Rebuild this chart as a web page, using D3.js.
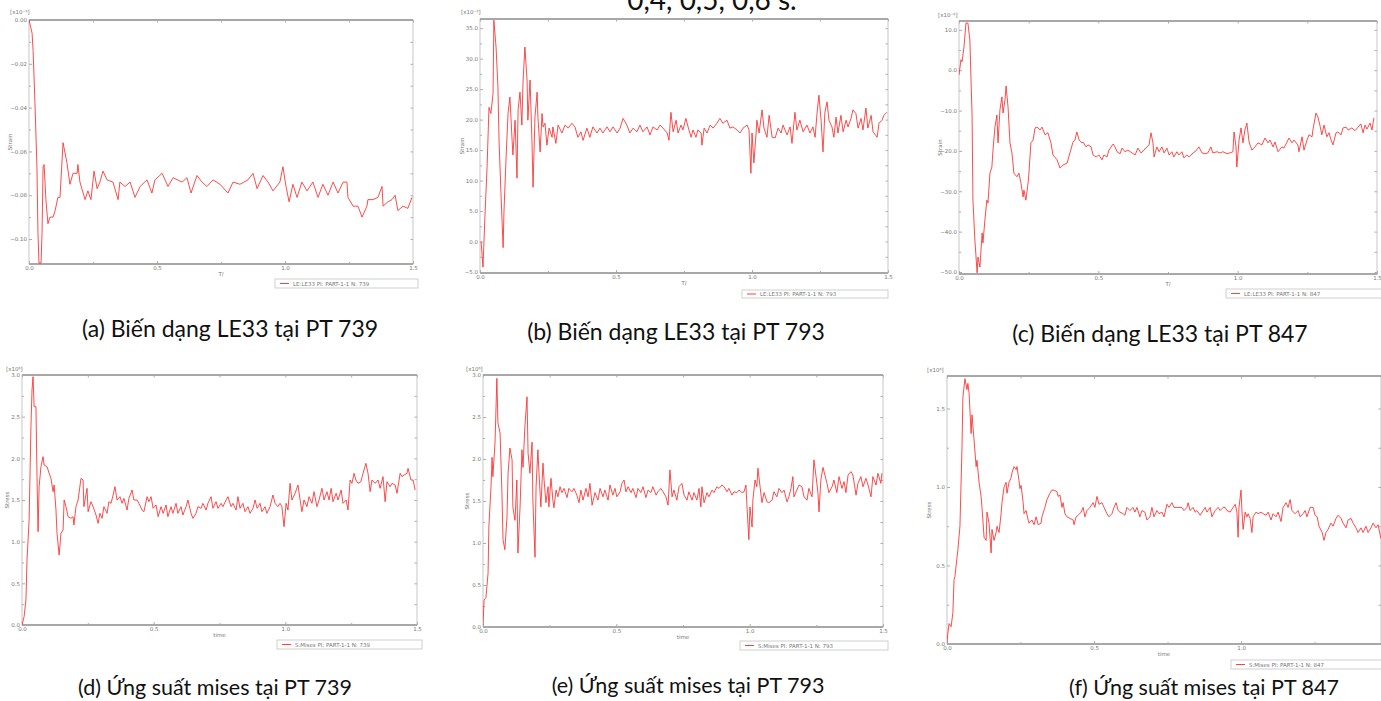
<!DOCTYPE html>
<html>
<head>
<meta charset="utf-8">
<script src="https://cdn.jsdelivr.net/npm/d3@7"></script>
<style>
body{margin:0;background:#fff;}
svg{display:block;}
.tick text{font-family:"DejaVu Sans",sans-serif;font-size:5.5px;fill:#777;}
.tick line{stroke:#888;stroke-width:0.7;}
.small-lbl{font-family:"DejaVu Sans",sans-serif;font-size:5.5px;fill:#777;}
.caption{font-family:Lato,"Open Sans",sans-serif;font-size:20px;fill:#111;}
</style>
</head>
<body>
<svg id="chart" width="1381" height="701"></svg>
<script>
// ---- data ----
var captions = ['(a) Biến dạng LE33 tại PT 739', '(b) Biến dạng LE33 tại PT 793', '(c) Biến dạng LE33 tại PT 847',
	'(d) Ứng suất mises tại PT 739', '(e) Ứng suất mises tại PT 793', '(f) Ứng suất mises tại PT 847'];
var legendLabels = ['LE:LE33 PI: PART-1-1 N: 739', 'LE:LE33 PI: PART-1-1 N: 793', 'LE:LE33 PI: PART-1-1 N: 847',
	'S:Mises PI: PART-1-1 N: 739', 'S:Mises PI: PART-1-1 N: 793', 'S:Mises PI: PART-1-1 N: 847'];
var topNote = '0,4, 0,5, 0,6 s.';
var xTicks = [0, 0.5, 1.0, 1.5];

var tA = [0,0.012,0.016,0.023,0.031,0.035,0.039,0.047,0.051,0.055,0.059,0.066,0.074,0.082,0.094,0.102,0.113,0.121,0.133,0.148,0.160,0.172,0.188,0.191,0.199,0.219,0.230,0.242,0.254,0.266,0.277,0.289,0.305,0.328,0.348,0.355,0.375,0.395,0.414,0.434,0.461,0.480,0.492,0.520,0.543,0.563,0.598,0.617,0.633,0.656,0.676,0.695,0.719,0.746,0.777,0.797,0.824,0.855,0.875,0.891,0.914,0.934,0.953,0.980,0.992,1.004,1.016,1.031,1.047,1.066,1.086,1.109,1.129,1.148,1.168,1.188,1.207,1.227,1.242,1.246,1.266,1.285,1.301,1.320,1.324,1.344,1.363,1.379,1.383,1.402,1.418,1.430,1.441,1.461,1.480,1.496];
var strainA = [0,-0.006,-0.014,-0.037,-0.067,-0.097,-0.111,-0.111,-0.097,-0.067,-0.066,-0.082,-0.093,-0.090,-0.090,-0.087,-0.081,-0.081,-0.056,-0.065,-0.075,-0.070,-0.070,-0.066,-0.074,-0.082,-0.078,-0.082,-0.069,-0.077,-0.074,-0.069,-0.073,-0.074,-0.082,-0.074,-0.076,-0.074,-0.081,-0.076,-0.073,-0.079,-0.073,-0.070,-0.076,-0.072,-0.074,-0.072,-0.079,-0.071,-0.074,-0.076,-0.073,-0.075,-0.079,-0.074,-0.075,-0.073,-0.070,-0.077,-0.071,-0.074,-0.078,-0.074,-0.067,-0.076,-0.083,-0.075,-0.081,-0.074,-0.078,-0.074,-0.081,-0.075,-0.080,-0.074,-0.079,-0.074,-0.074,-0.081,-0.085,-0.085,-0.090,-0.085,-0.082,-0.082,-0.081,-0.076,-0.085,-0.083,-0.082,-0.080,-0.087,-0.085,-0.086,-0.081];

var tB = [0.004,0.011,0.018,0.026,0.033,0.040,0.048,0.051,0.059,0.066,0.070,0.077,0.085,0.088,0.096,0.103,0.110,0.118,0.121,0.129,0.136,0.140,0.147,0.154,0.158,0.165,0.173,0.176,0.184,0.191,0.195,0.202,0.210,0.213,0.221,0.228,0.232,0.239,0.246,0.254,0.265,0.268,0.279,0.287,0.301,0.313,0.324,0.338,0.349,0.360,0.371,0.379,0.393,0.404,0.415,0.430,0.441,0.452,0.467,0.478,0.489,0.504,0.515,0.526,0.540,0.551,0.563,0.577,0.588,0.599,0.614,0.625,0.636,0.651,0.662,0.673,0.688,0.695,0.702,0.710,0.721,0.728,0.739,0.746,0.757,0.765,0.776,0.783,0.794,0.801,0.813,0.816,0.824,0.835,0.846,0.857,0.871,0.882,0.893,0.908,0.919,0.930,0.945,0.956,0.967,0.982,0.989,0.996,1.000,1.007,1.015,1.018,1.026,1.037,1.044,1.055,1.063,1.074,1.085,1.096,1.107,1.114,1.129,1.140,1.147,1.158,1.165,1.176,1.188,1.202,1.213,1.224,1.232,1.239,1.246,1.254,1.261,1.268,1.276,1.283,1.294,1.301,1.309,1.316,1.327,1.335,1.346,1.353,1.364,1.371,1.382,1.390,1.401,1.408,1.419,1.426,1.438,1.445,1.460,1.467,1.478,1.485,1.496];
var strainB = [0,-4.2,4.0,12.2,22,21,24.3,36.3,31.9,25.3,16.6,8,-1,4.7,13.9,21,23.7,16.6,14.2,19.9,10.4,21.6,24.5,19.1,26,31.9,26.5,19.9,26.5,16.6,8.9,20.4,24.5,20.4,14.7,21,18.8,19.4,15.8,18.6,17.1,18.8,16.1,19.1,17.8,19.1,18.6,19.4,18.8,17.1,18,16.6,18.6,17.1,18.8,17.8,18.6,17.8,18.8,18,18.8,17.8,18.6,20.2,19.1,17.8,18.6,18,19.1,18,18.8,17.5,18.8,18.3,19.1,18.6,17.8,16.6,21.2,18,19.9,17.8,19.1,18.3,20.2,18.8,17.1,18.3,17.1,18.3,17.8,15.8,18.6,17.8,19.1,18.6,19.4,20.2,19.4,19.9,18.6,18.8,18.3,17.8,18.6,19.1,18.3,11.2,17.8,12.9,17.8,19.9,17.8,21.6,18.6,17.1,20.7,17.1,17,18.6,17.8,19.1,17.5,18.8,16.1,21.2,18.3,19.9,18,19.1,17.8,18.8,17.1,21,24,19.9,14.7,21.2,22.9,19.9,18.8,17.1,20.4,17.8,20.7,18,19.9,18.8,20.2,21.6,21,18.6,20.2,18.3,21.9,18.6,20.7,18,17.1,19.4,19.9,20.7,21.2];

var tC = [0,0.007,0.011,0.018,0.025,0.032,0.039,0.047,0.050,0.057,0.065,0.068,0.075,0.083,0.086,0.093,0.100,0.104,0.111,0.118,0.122,0.129,0.136,0.140,0.147,0.154,0.158,0.165,0.169,0.176,0.183,0.190,0.197,0.208,0.215,0.222,0.230,0.233,0.240,0.248,0.251,0.258,0.266,0.273,0.280,0.291,0.298,0.309,0.319,0.330,0.337,0.352,0.362,0.373,0.388,0.398,0.409,0.416,0.423,0.431,0.441,0.445,0.456,0.463,0.474,0.481,0.492,0.502,0.513,0.520,0.531,0.538,0.553,0.560,0.567,0.578,0.585,0.596,0.606,0.621,0.632,0.642,0.653,0.664,0.675,0.682,0.689,0.696,0.700,0.710,0.718,0.728,0.736,0.746,0.754,0.764,0.771,0.782,0.789,0.800,0.807,0.818,0.825,0.840,0.850,0.861,0.872,0.883,0.893,0.904,0.911,0.926,0.936,0.947,0.962,0.972,0.983,0.987,0.994,0.997,1.005,1.012,1.019,1.026,1.033,1.041,1.051,1.062,1.073,1.087,1.098,1.109,1.116,1.127,1.134,1.145,1.159,1.166,1.177,1.184,1.195,1.202,1.216,1.220,1.231,1.238,1.249,1.256,1.267,1.270,1.281,1.288,1.295,1.302,1.310,1.320,1.328,1.335,1.342,1.353,1.360,1.371,1.378,1.389,1.396,1.410,1.421,1.432,1.442,1.450,1.457,1.464,1.475,1.482,1.489];
var strainC = [-1.2,2.6,2.1,5.8,11.7,11.7,7.5,-11.6,-32.2,-42.1,-50.2,-46.3,-48.8,-40.3,-42.8,-37.1,-32.2,-32.9,-25.5,-24,-19.8,-14.1,-11.1,-18,-9.8,-6.6,-10.6,-7.4,-3.9,-9.1,-18,-20.5,-25.5,-26.4,-25.5,-27.9,-31.4,-29.7,-32.2,-27.9,-25.5,-18,-17.3,-14.3,-14.1,-14.8,-14.1,-16,-15.5,-18,-21,-22.2,-24.2,-23.5,-23,-20.5,-17.8,-17.3,-15.3,-17.3,-18,-17.8,-19,-18.5,-19,-21,-21.5,-21,-22.2,-21,-21.5,-19.8,-18.3,-19,-20.2,-20.7,-19.3,-20.2,-19.8,-20.5,-21,-19.3,-20.5,-19.8,-19,-18.5,-15.5,-18,-21.5,-19,-20.2,-19,-20.5,-19.3,-21,-20.2,-21.5,-20.2,-21,-20.2,-21.7,-21,-21.5,-20.5,-20,-19,-20.5,-20.7,-20.5,-19,-20.5,-20.2,-20.5,-20.2,-20.7,-20.5,-20.2,-15.3,-19,-24,-17.3,-14.3,-18,-14.8,-13.1,-17.8,-19.8,-19,-18,-18.5,-16.8,-18,-17.3,-19,-17.8,-20.2,-19,-19.3,-17.8,-16.8,-18,-17.3,-18.5,-20.2,-16.5,-19.8,-17.3,-16,-16.5,-14.8,-10.6,-11.6,-13.6,-16,-13.6,-16.5,-15.5,-17.3,-18.5,-15.5,-15.3,-16,-14.3,-14.1,-14.8,-14.3,-15,-14.1,-13.3,-15.5,-13.6,-14.6,-13.1,-14.8,-11.8];

var tD = [0,0.008,0.015,0.019,0.027,0.034,0.038,0.042,0.046,0.053,0.057,0.061,0.065,0.072,0.080,0.084,0.095,0.103,0.110,0.118,0.122,0.129,0.133,0.141,0.148,0.156,0.160,0.167,0.175,0.186,0.194,0.197,0.205,0.213,0.224,0.232,0.235,0.247,0.251,0.262,0.270,0.281,0.289,0.296,0.304,0.311,0.323,0.330,0.338,0.346,0.353,0.361,0.372,0.380,0.387,0.399,0.406,0.418,0.425,0.437,0.444,0.456,0.463,0.475,0.482,0.490,0.498,0.509,0.517,0.528,0.536,0.547,0.554,0.566,0.573,0.585,0.592,0.604,0.611,0.623,0.630,0.642,0.649,0.661,0.668,0.680,0.687,0.699,0.706,0.718,0.725,0.737,0.744,0.756,0.763,0.775,0.782,0.794,0.801,0.813,0.820,0.828,0.839,0.847,0.858,0.866,0.877,0.885,0.893,0.904,0.911,0.923,0.930,0.942,0.953,0.961,0.972,0.980,0.987,0.995,1.003,1.010,1.018,1.025,1.037,1.048,1.056,1.063,1.071,1.082,1.090,1.101,1.109,1.120,1.128,1.139,1.147,1.158,1.166,1.174,1.181,1.193,1.200,1.212,1.219,1.231,1.238,1.246,1.253,1.261,1.268,1.276,1.287,1.295,1.306,1.314,1.322,1.329,1.341,1.352,1.360,1.371,1.379,1.386,1.398,1.405,1.417,1.424,1.436,1.443,1.451,1.462,1.466,1.477,1.485,1.493];
var stressD = [0,0.10,0.30,0.78,1.26,2.38,2.82,2.98,2.62,2.62,1.78,1.12,1.66,1.90,2.02,1.92,1.90,1.82,1.76,1.60,1.68,1.38,1.10,0.84,1.10,1.14,1.50,1.42,1.30,1.28,1.30,1.20,1.42,1.50,1.76,1.74,1.42,1.64,1.36,1.48,1.42,1.32,1.22,1.34,1.28,1.42,1.34,1.48,1.46,1.56,1.66,1.50,1.54,1.46,1.52,1.38,1.52,1.62,1.50,1.50,1.46,1.38,1.36,1.54,1.48,1.54,1.40,1.44,1.30,1.42,1.34,1.44,1.30,1.42,1.34,1.46,1.34,1.42,1.32,1.42,1.50,1.34,1.28,1.34,1.42,1.40,1.46,1.38,1.46,1.54,1.40,1.48,1.40,1.46,1.42,1.50,1.54,1.42,1.46,1.38,1.54,1.40,1.46,1.36,1.42,1.34,1.40,1.50,1.40,1.46,1.36,1.42,1.34,1.42,1.56,1.46,1.42,1.46,1.42,1.18,1.46,1.38,1.70,1.50,1.58,1.68,1.50,1.36,1.50,1.42,1.54,1.46,1.60,1.42,1.50,1.64,1.50,1.60,1.50,1.64,1.48,1.58,1.50,1.62,1.46,1.50,1.38,1.74,1.70,1.82,1.74,1.70,1.72,1.82,1.94,1.82,1.60,1.74,1.70,1.74,1.64,1.78,1.48,1.72,1.66,1.70,1.68,1.58,1.82,1.78,1.80,1.82,1.88,1.74,1.74,1.62];

var tE = [0,0.004,0.011,0.019,0.022,0.030,0.034,0.037,0.045,0.052,0.056,0.064,0.071,0.075,0.082,0.090,0.094,0.101,0.109,0.112,0.120,0.127,0.131,0.139,0.146,0.150,0.157,0.165,0.169,0.176,0.184,0.187,0.195,0.199,0.206,0.210,0.217,0.225,0.229,0.236,0.244,0.247,0.255,0.262,0.266,0.274,0.281,0.289,0.296,0.304,0.315,0.322,0.334,0.341,0.352,0.360,0.367,0.375,0.386,0.394,0.401,0.409,0.420,0.431,0.439,0.450,0.457,0.469,0.476,0.487,0.495,0.502,0.514,0.521,0.529,0.536,0.544,0.555,0.562,0.574,0.581,0.592,0.600,0.611,0.619,0.630,0.637,0.649,0.656,0.667,0.675,0.686,0.694,0.701,0.709,0.716,0.727,0.735,0.746,0.754,0.765,0.772,0.784,0.791,0.802,0.810,0.817,0.821,0.829,0.840,0.847,0.859,0.866,0.877,0.885,0.896,0.904,0.915,0.922,0.934,0.941,0.952,0.960,0.971,0.979,0.986,0.990,0.997,1.001,1.009,1.012,1.020,1.027,1.031,1.039,1.046,1.054,1.065,1.072,1.084,1.091,1.102,1.110,1.121,1.129,1.140,1.147,1.155,1.162,1.166,1.177,1.185,1.196,1.204,1.215,1.222,1.234,1.241,1.249,1.256,1.260,1.267,1.275,1.282,1.290,1.297,1.309,1.316,1.327,1.335,1.346,1.354,1.361,1.369,1.380,1.387,1.399,1.406,1.417,1.425,1.436,1.444,1.455,1.462,1.474,1.481,1.492,1.496];
var stressE = [0.02,0.32,0.35,0.64,1.19,1.67,2.02,1.79,2.19,2.96,2.43,2.31,1.60,1.04,0.92,1.31,1.83,2.13,1.99,1.43,1.27,1.75,0.88,1.43,2.11,1.90,2.38,2.74,2.07,1.83,2.20,1.51,0.83,1.67,2.11,1.83,1.43,1.95,1.75,1.48,1.67,1.43,1.77,1.51,1.42,1.63,1.55,1.67,1.60,1.65,1.54,1.65,1.61,1.65,1.57,1.48,1.63,1.51,1.65,1.55,1.71,1.45,1.60,1.51,1.65,1.55,1.63,1.51,1.69,1.57,1.65,1.55,1.61,1.71,1.75,1.61,1.67,1.60,1.65,1.54,1.65,1.60,1.67,1.54,1.63,1.60,1.67,1.57,1.61,1.65,1.61,1.55,1.45,1.87,1.55,1.63,1.51,1.67,1.71,1.57,1.51,1.61,1.51,1.60,1.51,1.65,1.43,1.67,1.48,1.60,1.55,1.63,1.60,1.67,1.65,1.69,1.67,1.61,1.65,1.57,1.61,1.60,1.63,1.60,1.61,1.69,1.43,1.04,1.43,1.19,1.51,1.75,1.67,1.89,1.67,1.48,1.60,1.49,1.48,1.51,1.61,1.55,1.65,1.60,1.63,1.49,1.55,1.65,1.79,1.55,1.63,1.69,1.67,1.55,1.51,1.65,1.55,1.99,1.79,1.60,1.37,1.75,1.90,1.81,1.71,1.60,1.67,1.75,1.60,1.79,1.65,1.73,1.60,1.81,1.85,1.81,1.57,1.71,1.79,1.67,1.77,1.69,1.55,1.79,1.69,1.83,1.71,1.83];

var tF = [0,0.003,0.007,0.014,0.020,0.024,0.027,0.034,0.037,0.044,0.051,0.054,0.061,0.068,0.071,0.075,0.082,0.085,0.092,0.099,0.102,0.109,0.116,0.119,0.126,0.133,0.136,0.143,0.150,0.153,0.160,0.167,0.170,0.177,0.184,0.187,0.194,0.201,0.204,0.211,0.218,0.221,0.228,0.235,0.238,0.245,0.248,0.252,0.259,0.262,0.269,0.276,0.279,0.289,0.296,0.303,0.310,0.320,0.323,0.333,0.340,0.350,0.357,0.364,0.374,0.378,0.384,0.391,0.395,0.401,0.408,0.418,0.429,0.432,0.439,0.446,0.456,0.463,0.469,0.476,0.486,0.497,0.503,0.510,0.517,0.527,0.534,0.544,0.551,0.561,0.568,0.575,0.582,0.588,0.599,0.605,0.612,0.622,0.633,0.639,0.646,0.656,0.663,0.673,0.680,0.690,0.697,0.704,0.714,0.721,0.731,0.738,0.748,0.755,0.765,0.772,0.782,0.789,0.799,0.806,0.816,0.820,0.827,0.837,0.844,0.850,0.861,0.871,0.878,0.884,0.895,0.901,0.912,0.922,0.929,0.939,0.946,0.952,0.963,0.973,0.980,0.986,0.990,0.993,1.000,1.003,1.007,1.014,1.020,1.024,1.031,1.037,1.041,1.051,1.058,1.068,1.075,1.085,1.092,1.102,1.109,1.119,1.126,1.136,1.143,1.153,1.160,1.167,1.173,1.184,1.194,1.201,1.211,1.218,1.224,1.235,1.245,1.252,1.259,1.265,1.276,1.282,1.289,1.296,1.306,1.313,1.323,1.330,1.340,1.347,1.357,1.364,1.374,1.381,1.391,1.398,1.408,1.415,1.425,1.432,1.442,1.449,1.459,1.466,1.476];
var stressF = [0.01,0.07,0.13,0.11,0.20,0.41,0.43,0.55,0.60,0.75,1.25,1.57,1.69,1.62,1.66,1.60,1.34,1.46,1.30,1.13,1.17,1.03,0.94,0.87,0.68,0.66,0.84,0.77,0.58,0.73,0.66,0.71,0.75,0.71,0.83,0.90,1.00,1.03,0.96,1.03,1.06,1.09,1.13,1.11,1.13,1.04,0.99,1.01,0.90,0.83,0.85,0.79,0.77,0.79,0.76,0.81,0.76,0.77,0.81,0.87,0.92,0.96,0.98,0.98,0.97,0.94,0.95,0.87,0.90,0.83,0.81,0.80,0.79,0.76,0.81,0.82,0.84,0.87,0.81,0.85,0.87,0.90,0.87,0.94,0.89,0.90,0.87,0.83,0.81,0.83,0.87,0.90,0.85,0.84,0.83,0.82,0.87,0.85,0.87,0.84,0.87,0.81,0.85,0.84,0.79,0.81,0.87,0.81,0.85,0.83,0.84,0.81,0.89,0.87,0.90,0.87,0.87,0.87,0.87,0.85,0.87,0.90,0.85,0.87,0.84,0.85,0.82,0.85,0.87,0.84,0.87,0.81,0.85,0.87,0.85,0.87,0.87,0.85,0.84,0.87,0.89,0.84,0.68,0.87,0.98,0.85,0.73,0.84,0.81,0.83,0.80,0.71,0.81,0.84,0.83,0.84,0.83,0.82,0.84,0.79,0.83,0.81,0.84,0.78,0.87,0.90,0.87,0.92,0.85,0.83,0.85,0.81,0.83,0.85,0.81,0.87,0.87,0.82,0.81,0.75,0.71,0.66,0.71,0.73,0.77,0.75,0.80,0.82,0.80,0.77,0.74,0.79,0.80,0.77,0.74,0.71,0.74,0.71,0.75,0.71,0.74,0.77,0.74,0.76,0.67];

// ---- layout of the six panels ----
var panels = [
	{t:tA, v:strainA, left:29, top:20, right:413, bottom:264, yDomain:[-0.1114, 0], yTicks:[0,-0.02,-0.04,-0.06,-0.08,-0.10], yFmt:'.2f', xMax:1.5,
		yLabel:'Strain', yLabelX:12, xLabel:'T/', exp:'[x10\u207B\u00B3]', expX:10, expY:14, leg:[275,279,143,9], capX:230, capY:337, capSize:23},
	{t:tB, v:strainB, left:480, top:19, right:888, bottom:273, yDomain:[-5.16, 36.5], yTicks:[35,30,25,20,15,10,5,0,-5], yFmt:'.1f', xMax:1.5,
		yLabel:'Strain', yLabelX:464, xLabel:'T/', exp:'[x10\u207B\u00B3]', expX:461, expY:14, leg:[742,290,146,8], capX:676, capY:340, capSize:23},
	{t:tC, v:strainC, left:959, top:21, right:1377, bottom:274, yDomain:[-50.5, 12.2], yTicks:[10,0,-10,-20,-30,-40,-50], yFmt:'.1f', xMax:1.5,
		yLabel:'Strain', yLabelX:942, xLabel:'T/', exp:'[x10\u207B\u2076]', expX:938, expY:17, leg:[1226,289,160,9], capX:1160, capY:342, capSize:23},
	{t:tD, v:stressD, left:22, top:375, right:417, bottom:625, yDomain:[0, 3.0], yTicks:[0,0.5,1.0,1.5,2.0,2.5,3.0], yFmt:'.1f', xMax:1.5,
		yLabel:'Stress', yLabelX:9, xLabel:'time', exp:'[x10\u2076]', expX:6, expY:371, leg:[277,640,145,9], capX:215, capY:695, capSize:21.5},
	{t:tE, v:stressE, left:483, top:375, right:883, bottom:627, yDomain:[0, 3.0], yTicks:[0,0.5,1.0,1.5,2.0,2.5,3.0], yFmt:'.1f', xMax:1.5,
		yLabel:'Stress', yLabelX:469, xLabel:'time', exp:'[x10\u2076]', expX:466, expY:371, leg:[740,641,148,9], capX:688, capY:693, capSize:21.5},
	{t:tF, v:stressF, left:947, top:376, right:1381, bottom:644, yDomain:[0, 1.707], yTicks:[0,0.5,1.0,1.5], yFmt:'.1f', xMax:1.476,
		yLabel:'Stress', yLabelX:931, xLabel:'time', exp:'[x10\u2076]', expX:927, expY:372, leg:[1231,660,160,9], capX:1204, capY:695, capSize:21.5}
];

var svg = d3.select('#chart');
svg.append('rect').attr('width', 1381).attr('height', 701).attr('fill', '#fff');

// top line of text, cut by the page edge as in the source
svg.append('text')
	.attr('class', 'caption')
	.attr('x', 712).attr('y', 10)
	.attr('text-anchor', 'middle')
	.style('font-size', '28px')
	.text(topNote);

var defs = svg.append('defs');

panels.forEach(function(p, i){
	var w = p.right - p.left, h = p.bottom - p.top;
	var x = d3.scaleLinear().domain([0, p.xMax]).range([p.left, p.right]);
	var y = d3.scaleLinear().domain(p.yDomain).range([p.bottom, p.top]);
	var g = svg.append('g');

	var majorX = xTicks.filter(function(d){ return d <= p.xMax + 1e-9; });
	var minorX = [];
	for(var k = 0; k < xTicks.length - 1; k++){
		var m = (xTicks[k] + xTicks[k+1]) / 2;
		if(m <= p.xMax) minorX.push(m);
	}
	var ys = p.yTicks.slice().sort(d3.ascending);
	var minorY = [];
	for(var k2 = 0; k2 < ys.length - 1; k2++) minorY.push((ys[k2] + ys[k2+1]) / 2);

	// axes, ticks pointing inward
	g.append('g').attr('transform', 'translate(0,' + p.bottom + ')')
		.call(d3.axisBottom(x).tickValues(majorX).tickSize(-3).tickPadding(2).tickFormat(d3.format('.1f')));
	g.append('g').attr('transform', 'translate(0,' + p.bottom + ')')
		.call(d3.axisBottom(x).tickValues(minorX).tickSize(-2).tickFormat(''));
	g.append('g').attr('transform', 'translate(0,' + p.top + ')')
		.call(d3.axisTop(x).tickValues(majorX.concat(minorX)).tickSize(-2.5).tickFormat(''));
	g.append('g').attr('transform', 'translate(' + p.left + ',0)')
		.call(d3.axisLeft(y).tickValues(p.yTicks).tickSize(-3).tickPadding(2).tickFormat(d3.format(p.yFmt)));
	g.append('g').attr('transform', 'translate(' + p.left + ',0)')
		.call(d3.axisLeft(y).tickValues(minorY).tickSize(-2).tickFormat(''));
	g.append('g').attr('transform', 'translate(' + p.right + ',0)')
		.call(d3.axisRight(y).tickValues(p.yTicks.concat(minorY)).tickSize(-2.5).tickFormat(''));
	g.selectAll('.domain').remove();

	// frame
	g.append('rect')
		.attr('x', p.left).attr('y', p.top).attr('width', w).attr('height', h)
		.attr('fill', 'none').attr('stroke', '#b8b8b8').attr('stroke-width', 0.8);
	g.append('line').attr('x1', p.left).attr('x2', p.right).attr('y1', p.top).attr('y2', p.top)
		.attr('stroke', '#a8a8a8').attr('stroke-width', 2);
	g.append('line').attr('x1', p.left).attr('x2', p.right).attr('y1', p.bottom).attr('y2', p.bottom)
		.attr('stroke', '#a8a8a8').attr('stroke-width', 2);

	// curve
	defs.append('clipPath').attr('id', 'clip-' + i)
		.append('rect').attr('x', p.left).attr('y', p.top - 1).attr('width', w).attr('height', h + 2);
	var n = Math.min(p.t.length, p.v.length);
	var pts = d3.range(n).map(function(j){ return [p.t[j], p.v[j]]; });
	var line = d3.line()
		.x(function(d){ return x(d[0]); })
		.y(function(d){ return y(d[1]); });
	g.append('path')
		.datum(pts)
		.attr('clip-path', 'url(#clip-' + i + ')')
		.attr('d', line)
		.attr('fill', 'none')
		.attr('stroke', '#ff2a2a')
		.attr('stroke-width', 0.85)
		.attr('stroke-linejoin', 'round');

	// small labels
	g.append('text').attr('class', 'small-lbl')
		.attr('x', p.expX).attr('y', p.expY).text(p.exp);
	g.append('text').attr('class', 'small-lbl')
		.attr('transform', 'translate(' + p.yLabelX + ',' + ((p.top + p.bottom) / 2) + ') rotate(-90)')
		.attr('text-anchor', 'middle').text(p.yLabel);
	g.append('text').attr('class', 'small-lbl')
		.attr('x', (p.left + p.right) / 2).attr('y', p.bottom + 12)
		.attr('text-anchor', 'middle').text(p.xLabel);

	// legend
	var lg = g.append('g').attr('transform', 'translate(' + p.leg[0] + ',' + p.leg[1] + ')');
	lg.append('rect').attr('width', p.leg[2]).attr('height', p.leg[3])
		.attr('fill', '#fff').attr('stroke', '#c4c4c4').attr('stroke-width', 0.8);
	lg.append('line').attr('x1', 5).attr('x2', 14).attr('y1', p.leg[3] / 2).attr('y2', p.leg[3] / 2)
		.attr('stroke', '#ff2a2a').attr('stroke-width', 0.9);
	lg.append('text').attr('class', 'small-lbl')
		.attr('x', 18).attr('y', p.leg[3] / 2 + 2)
		.text(legendLabels[i]);

	// caption
	svg.append('text')
		.attr('class', 'caption')
		.attr('x', p.capX).attr('y', p.capY)
		.attr('text-anchor', 'middle')
		.style('font-size', p.capSize + 'px')
		.text(captions[i]);
});
</script>
</body>
</html>
